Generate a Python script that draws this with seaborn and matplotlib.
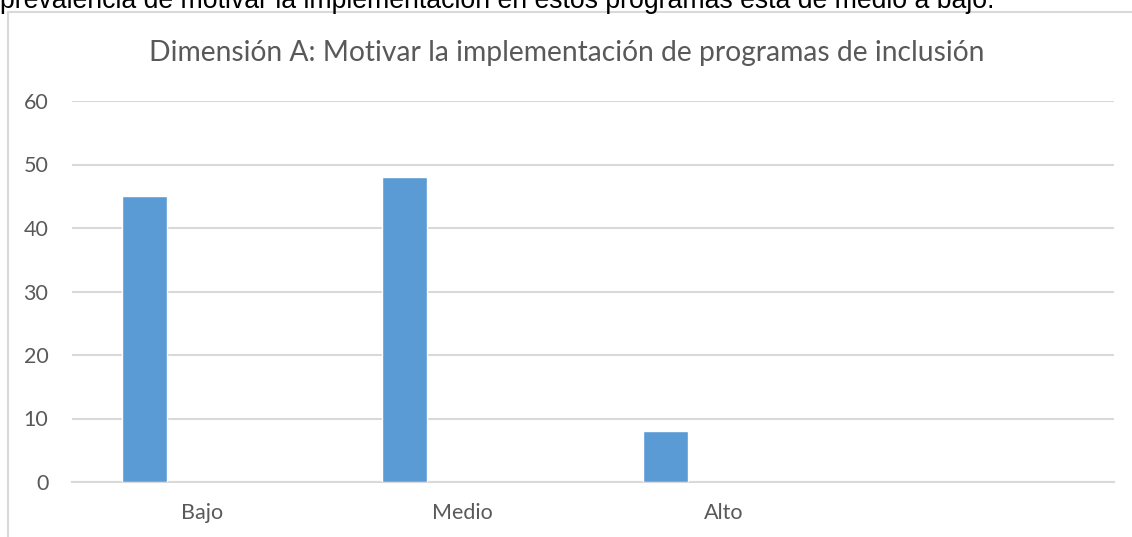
import numpy as np
import pandas as pd
import matplotlib
matplotlib.use("Agg")
import matplotlib.pyplot as plt
import seaborn as sns

# Data
categories = ["Bajo", "Medio", "Alto", ""]
values = [45, 48, 8, np.nan]
y_ticks = [0, 10, 20, 30, 40, 50, 60]

title = "Dimensión A: Motivar la implementación de programas de inclusión"
page_text = "prevalencia de motivar la implementación en estos programas está de medio a bajo."

sns.set_style("white")
plt.rcParams['font.family'] = ['Lato', 'DejaVu Sans']

bar_color = "#5B9BD5"
grid_color = "#D9D9D9"
text_color = "#595959"

# bars sit left of the category centre (first series of an Excel cluster)
offset = -0.223
bar_w = 0.173
df = pd.DataFrame({
    "pos": np.arange(len(categories)) + offset,
    "value": values,
})

fig = plt.figure(figsize=(11.32, 5.37), dpi=100)
ax = fig.add_axes([72 / 1132, 1 - 482 / 537, (1114 - 72) / 1132, (482 - 101) / 537])

sns.barplot(data=df, x="pos", y="value", native_scale=True, width=bar_w,
            color=bar_color, saturation=1, ax=ax, zorder=3)

ax.set_xlim(-0.5, len(categories) - 0.5)
ax.set_ylim(0, 60)
ax.set_yticks(y_ticks)
ax.set_xticks(np.arange(len(categories)))
ax.set_xticklabels(categories)
ax.yaxis.grid(True, color=grid_color, linewidth=1.5, zorder=0)
ax.xaxis.grid(False)
for s in ["top", "right", "left"]:
    ax.spines[s].set_visible(False)
ax.spines["bottom"].set_color(grid_color)
ax.spines["bottom"].set_linewidth(1.5)
ax.tick_params(axis="y", length=0, pad=17, labelsize=15.5, labelcolor=text_color)
ax.tick_params(axis="x", length=0, pad=15, labelsize=15.5, labelcolor=text_color)
ax.set_xlabel("")
ax.set_ylabel("")

fig.text(567 / 1132, 1 - 53 / 537, title, ha="center", va="center",
         fontsize=20.3, color=text_color)

# chart frame (left and top edges visible in the crop)
fig.add_artist(plt.Line2D([8 / 1132, 8 / 1132], [0, 1 - 12 / 537], color=grid_color, linewidth=1.5))
fig.add_artist(plt.Line2D([8 / 1132, 1], [1 - 12 / 537, 1 - 12 / 537], color=grid_color, linewidth=1.5))

# page text cut off at the top of the crop, as in the reference
fig.text(0.0, 1 - 8 / 537, page_text, ha="left", va="baseline", fontsize=19.2,
         color="black", family=["Liberation Sans", "DejaVu Sans"])

fig.savefig("out.png", dpi=100)
